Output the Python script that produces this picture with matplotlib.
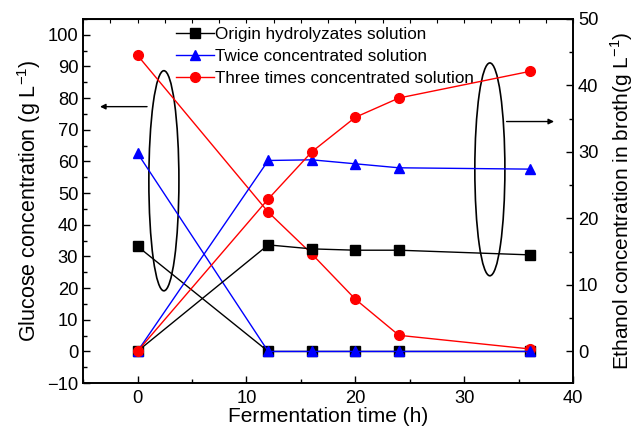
import matplotlib
matplotlib.use('Agg')
import matplotlib.pyplot as plt
from matplotlib.patches import Ellipse
from matplotlib.ticker import MultipleLocator

plt.rcParams['font.family'] = ['Liberation Sans', 'DejaVu Sans']
plt.rcParams['mathtext.fontset'] = 'custom'
plt.rcParams['mathtext.rm'] = 'Liberation Sans'

# Fermentation time (h)
time = [0, 12, 16, 20, 24, 36]

# Glucose concentration (g/L), left axis
glucose_origin = [33.2, 0, 0, 0, 0, 0]
glucose_twice = [62.6, 0, 0, 0, 0, 0]
glucose_three = [93.5, 44.0, 30.8, 16.5, 5.1, 0.8]

# Ethanol concentration in broth (g/L), right axis
ethanol_origin = [0, 16.0, 15.4, 15.2, 15.2, 14.5]
ethanol_twice = [0, 28.7, 28.8, 28.2, 27.6, 27.4]
ethanol_three = [0, 22.9, 30.0, 35.2, 38.1, 42.1]

labels = ['Origin hydrolyzates solution', 'Twice concentrated solution',
          'Three times concentrated solution']

fig = plt.figure(figsize=(6.39, 4.30), dpi=100)
ax1 = fig.add_axes([0.130, 0.109, 0.767, 0.847])
ax2 = ax1.twinx()

ms = 6.5
lw = 1.0
ax1.plot(time, glucose_origin, color='black', marker='s', ms=ms, lw=lw, label=labels[0])
ax1.plot(time, glucose_three, color='red', marker='o', ms=ms + 0.5, lw=lw, label=labels[2])
ax1.plot(time, glucose_twice, color='blue', marker='^', ms=ms + 0.5, lw=lw, label=labels[1])

ax2.plot(time, ethanol_origin, color='black', marker='s', ms=ms, lw=lw)
ax2.plot(time, ethanol_twice, color='blue', marker='^', ms=ms + 0.5, lw=lw)
ax2.plot(time, ethanol_three, color='red', marker='o', ms=ms + 0.5, lw=lw)

ax1.set_xlim(-5, 40)
ax1.set_ylim(-10, 105)
ax2.set_ylim(-4.8, 50)

ax1.xaxis.set_major_locator(MultipleLocator(10))
ax1.xaxis.set_minor_locator(MultipleLocator(5))
ax1.yaxis.set_major_locator(MultipleLocator(10))
ax1.yaxis.set_minor_locator(MultipleLocator(5))
ax2.yaxis.set_major_locator(MultipleLocator(10))
ax2.yaxis.set_minor_locator(MultipleLocator(5))

for ax in (ax1, ax2):
    ax.tick_params(which='major', direction='in', length=5, width=1, labelsize=13.2)
    ax.tick_params(which='minor', direction='in', length=3, width=1)
    for s in ax.spines.values():
        s.set_linewidth(1.2)
ax1.tick_params(axis='x', pad=5)

top = ax1.secondary_xaxis('top')
top.xaxis.set_major_locator(MultipleLocator(2.5))
top.tick_params(direction='in', length=3, labeltop=False)

ax1.set_xlabel('Fermentation time (h)', fontsize=15, labelpad=0)
ax1.set_ylabel('Glucose concentration (g L$^{-1}$)', fontsize=15.5, labelpad=3)
ax2.set_ylabel('Ethanol concentration in broth(g L$^{-1}$)', fontsize=15, labelpad=7)

# ellipses and arrows marking which axis each group uses
ax1.add_patch(Ellipse((2.42, 53.9), 2.76, 69.5, fill=False, ec='black', lw=1.2))
ax1.annotate('', xy=(-3.7, 77.3), xytext=(1.13, 77.3),
             arrowprops=dict(arrowstyle='-|>', color='black', lw=1, mutation_scale=8))
ax1.add_patch(Ellipse((32.35, 57.5), 2.76, 67.2, fill=False, ec='black', lw=1.2))
ax1.annotate('', xy=(38.5, 72.6), xytext=(33.63, 72.6),
             arrowprops=dict(arrowstyle='-|>', color='black', lw=1, mutation_scale=8))

h, l = ax1.get_legend_handles_labels()
order = [0, 2, 1]
ax1.legend([h[i] for i in order], [l[i] for i in order], loc='upper left',
           bbox_to_anchor=(0.19, 0.978), frameon=False, fontsize=12.3,
           borderpad=0, borderaxespad=0, handlelength=2.2, handletextpad=0.1,
           labelspacing=0.42)

fig.savefig('out.png', dpi=100)
